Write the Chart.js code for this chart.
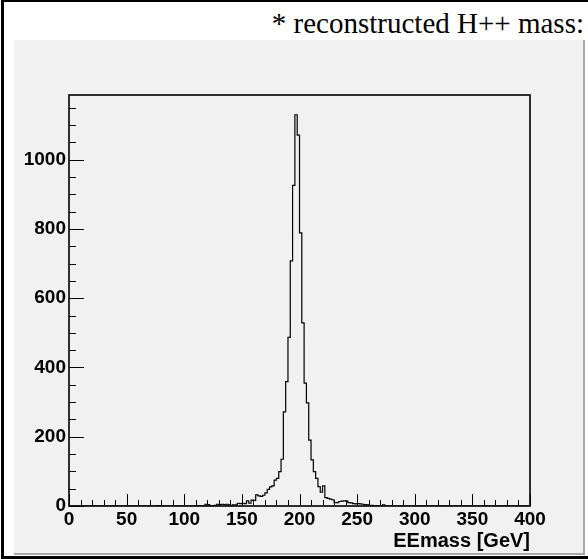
<!DOCTYPE html>
<html>
<head>
<meta charset="utf-8">
<script src="https://cdn.jsdelivr.net/npm/chart.js@4"></script>
<style>
  body { margin: 0; background: #fff; }
  #outer { position: absolute; left: 1px; top: 0; width: 587px; height: 559px; box-sizing: border-box;
           border-top: 2px solid #000; border-left: 3px solid #000; border-bottom: 3px solid #000; }
  #pad { position: absolute; left: 14px; top: 40px; width: 571px; height: 515px; box-sizing: border-box;
         background: #f1f1f1; border-right: 2px solid #a8a8a8; border-bottom: 2px solid #a8a8a8; }
  #title { position: absolute; right: 4px; top: 9px; font: 29px "Liberation Serif", "Times New Roman", serif;
           line-height: 29px; color: #000; white-space: nowrap; }
  #c { position: absolute; left: 0; top: 0; }
</style>
</head>
<body>
<div id="outer"></div>
<div id="pad"></div>
<div id="title">* reconstructed H++ mass:</div>
<canvas id="c" width="588" height="559"></canvas>
<script>
// histogram: 200 bins of 2 GeV from 0 to 400
const xMin = 0;
const binWidth = 2;
const counts = [
    0, 0, 0, 0, 0, 0, 0, 0, 0, 0, 0, 0, 0, 0, 0, 0, 0, 0, 0, 0,
    0, 0, 0, 0, 0, 0, 0, 0, 0, 0, 0, 0, 0, 0, 0, 0, 0, 0, 0, 1,
    0, 1, 0, 0, 0, 0, 0, 0, 0, 0, 0, 0, 0, 0, 0, 0, 0, 0, 0, 1,
    5, 4, 1, 0, 2, 5, 4, 5, 4, 5, 3, 2, 3, 3, 8, 7, 8, 7, 15, 8,
    17, 16, 32, 29, 28, 31, 38, 48, 55, 58, 75, 80, 99, 135, 272, 359, 487, 708, 926, 1130,
    1071, 789, 529, 355, 298, 190, 133, 99, 80, 56, 40, 58, 24, 22, 20, 18, 10, 10, 13, 14,
    15, 14, 10, 9, 7, 6, 7, 6, 5, 4, 3, 1, 2, 0, 1, 0, 0, 3, 0, 0,
    0, 0, 0, 0, 0, 1, 0, 0, 0, 0, 0, 0, 0, 0, 0, 0, 0, 0, 0, 0,
    0, 0, 0, 0, 0, 0, 0, 0, 0, 0, 0, 0, 0, 0, 0, 0, 0, 0, 0, 0,
    0, 0, 0, 0, 0, 0, 0, 0, 0, 0, 0, 0, 0, 0, 0, 0, 0, 0, 0, 0
];
const xTitle = "EEmass [GeV]";
const xRange = [0, 400];
const yRange = [0, 1187];
const xTickLabels = [0, 50, 100, 150, 200, 250, 300, 350, 400];
const yTickLabels = [0, 200, 400, 600, 800, 1000];
const xMajor = 50, xMinor = 10;
const yMajor = 200, yMinor = 50;

// step outline points (low edge of every bin + closing edge)
const points = counts.map((c, i) => ({ x: xMin + i * binWidth, y: c }));
points.push({ x: xMin + counts.length * binWidth, y: counts[counts.length - 1] });

// frame + inside ticks like ROOT
const frameTicks = {
    id: "frameTicks",
    afterDatasetsDraw(chart) {
        const { ctx, chartArea: a, scales: { x, y } } = chart;
        ctx.save();
        ctx.strokeStyle = "#000";
        ctx.lineWidth = 1;
        ctx.beginPath();
        for (let v = xRange[0]; v <= xRange[1]; v += xMinor) {
            const px = Math.round(x.getPixelForValue(v)) + 0.5;
            const len = v % xMajor === 0 ? 12 : 6;
            ctx.moveTo(px, a.bottom);
            ctx.lineTo(px, a.bottom - len);
        }
        for (let v = yRange[0]; v <= yRange[1]; v += yMinor) {
            const py = Math.round(y.getPixelForValue(v)) + 0.5;
            const len = v % yMajor === 0 ? 15 : 7;
            ctx.moveTo(a.left, py);
            ctx.lineTo(a.left + len, py);
        }
        ctx.stroke();
        ctx.lineWidth = 1.6;
        ctx.strokeRect(a.left, a.top, a.right - a.left, a.bottom - a.top);
        ctx.restore();
    }
};

const labelFont = { family: "Liberation Sans", size: 19, weight: "bold" };

new Chart(document.getElementById("c"), {
    type: "line",
    data: {
        datasets: [{
            data: points,
            stepped: "after",
            borderColor: "#000",
            borderWidth: 1.2,
            pointRadius: 0,
            fill: false
        }]
    },
    options: {
        responsive: false,
        animation: false,
        devicePixelRatio: 1,
        layout: { padding: { left: 0, top: 95, right: 58, bottom: 0 } },
        plugins: { legend: { display: false }, tooltip: { enabled: false } },
        scales: {
            x: {
                type: "linear",
                min: xRange[0],
                max: xRange[1],
                grid: { display: false, drawTicks: false },
                border: { display: false },
                afterFit(s) { s.height = 53; },
                afterBuildTicks(s) { s.ticks = xTickLabels.map(v => ({ value: v })); },
                ticks: {
                    maxRotation: 0,
                    autoSkip: false,
                    padding: 2,
                    color: "#000",
                    font: labelFont,
                    callback: v => String(v)
                },
                title: {
                    display: true,
                    text: xTitle,
                    align: "end",
                    color: "#000",
                    padding: { top: 0, bottom: 6 },
                    font: { family: "Liberation Sans", size: 20, weight: "bold" }
                }
            },
            y: {
                min: yRange[0],
                max: yRange[1],
                grid: { display: false, drawTicks: false },
                border: { display: false },
                afterFit(s) { s.width = 69; },
                afterBuildTicks(s) { s.ticks = yTickLabels.map(v => ({ value: v })); },
                ticks: {
                    autoSkip: false,
                    padding: 3,
                    color: "#000",
                    font: labelFont,
                    callback: v => String(v)
                }
            }
        }
    },
    plugins: [frameTicks]
});
</script>
</body>
</html>
